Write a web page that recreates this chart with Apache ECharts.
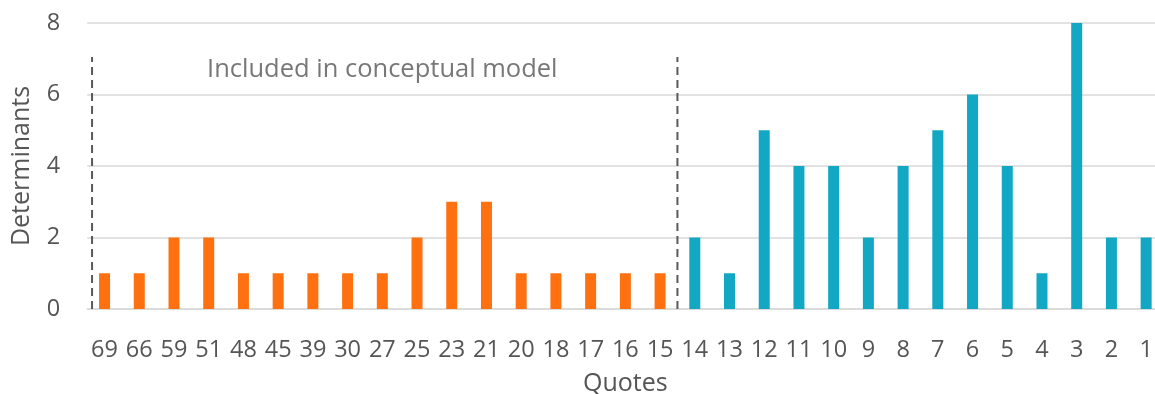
<!DOCTYPE html>
<html><head><meta charset="utf-8">
<script src="https://cdn.jsdelivr.net/npm/echarts@6/dist/echarts.min.js"></script>
<style>html,body{margin:0;padding:0;background:#fff}#c{width:1155px;height:394px}</style>
</head><body><div id="c"></div>
<script>
const categories = ['69','66','59','51','48','45','39','30','27','25','23','21','20','18','17','16','15','14','13','12','11','10','9','8','7','6','5','4','3','2','1'];
const includedValues = [1,1,2,2,1,1,1,1,1,2,3,3,1,1,1,1,1];
const otherValues = [2,1,5,4,4,2,4,5,6,4,1,8,2,2];
const yTicks = [0,2,4,6,8];
const annotationText = 'Included in conceptual model';

const n = categories.length;
const orangeData = categories.map((c,i)=> i < includedValues.length ? includedValues[i] : null);
const blueData = categories.map((c,i)=> i >= includedValues.length ? otherValues[i-includedValues.length] : null);
const boundary = includedValues.length - 0.5;
const font = '"Open Sans", "Noto Sans", sans-serif';
const textColor = '#555555';

const chart = echarts.init(document.getElementById('c'), null, {renderer:'canvas'});
chart.setOption({
  animation:false,
  grid:{left:87.2, right:-8.5, top:23, bottom:85, containLabel:false, outerBoundsMode:'none'},
  xAxis:[{
    type:'category', data:categories,
    axisLine:{lineStyle:{color:'#D9D9D9', width:1.5}},
    axisTick:{show:false},
    axisLabel:{interval:0, color:textColor, fontSize:23.5, fontFamily:font, margin:29},
    name:'Quotes', nameLocation:'middle', nameGap:62,
    nameTextStyle:{color:textColor, fontSize:25, fontFamily:font}
  },{
    type:'value', min:-0.5, max:n-0.5, show:false
  }],
  yAxis:{
    type:'value', min:yTicks[0], max:yTicks[yTicks.length-1], interval:2,
    axisLine:{show:false}, axisTick:{show:false},
    splitLine:{lineStyle:{color:'#D9D9D9', width:1.5}},
    axisLabel:{color:textColor, fontSize:23.5, fontFamily:font, margin:27},
    name:'Determinants', nameLocation:'middle', nameGap:53, nameRotate:90,
    nameTextStyle:{color:textColor, fontSize:25, fontFamily:font}
  },
  series:[
    {type:'bar', data:orangeData, stack:'s', barWidth:11, itemStyle:{color:'#FF7011'}},
    {type:'bar', data:blueData, stack:'s', barWidth:11, itemStyle:{color:'#12A7C3'}},
    {type:'line', xAxisIndex:1, data:[[-0.36,0],[-0.36,7.05]], symbol:'none',
     lineStyle:{color:'#595959', width:2, type:[8,5]}},
    {type:'line', xAxisIndex:1, data:[[boundary,0],[boundary,7.05]], symbol:'none',
     lineStyle:{color:'#595959', width:2, type:[8,5]}},
    {type:'scatter', xAxisIndex:1, data:[[8.0,6.69]], symbolSize:0,
     label:{show:true, position:'inside', formatter:annotationText, color:textColor, fontSize:25.5, fontFamily:font}}
  ]
});
</script></body></html>
